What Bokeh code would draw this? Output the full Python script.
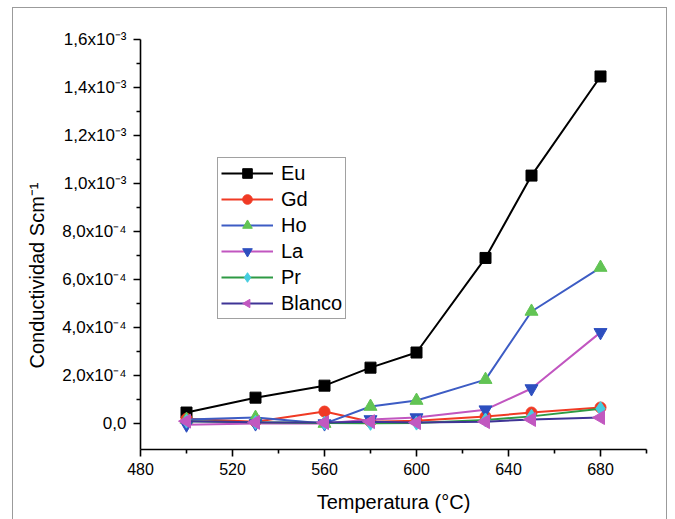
import math
from bokeh.plotting import figure
from bokeh.models import (FixedTicker, Legend, LegendItem, Title, Range1d,
                          ColumnDataSource)
from bokeh.embed import file_html
from bokeh.resources import INLINE

# Temperatura (°C) y conductividad (S/cm) de cada muestra
temperatura = [500, 530, 560, 580, 600, 630, 650, 680]
eu = [4.6e-5, 1.08e-4, 1.58e-4, 2.33e-4, 2.96e-4, 6.9e-4, 1.033e-3, 1.446e-3]
gd = [2.0e-5, 8e-6, 5.0e-5, 8e-6, 1.2e-5, 2.9e-5, 4.6e-5, 6.7e-5]
ho = [1.7e-5, 2.5e-5, 0.0, 7.1e-5, 9.6e-5, 1.83e-4, 4.67e-4, 6.5e-4]
la = [-5e-6, 0.0, 0.0, 1.7e-5, 2.5e-5, 5.8e-5, 1.46e-4, 3.8e-4]
pr = [1.0e-5, 5e-6, 2e-6, 1e-6, 2e-6, 1.5e-5, 3.0e-5, 6.2e-5]
blanco = [1.0e-5, 5e-6, 4e-6, 8e-6, 4e-6, 8e-6, 1.7e-5, 2.5e-5]

x_ticks = [480, 520, 560, 600, 640, 680]
x_minor = [500, 540, 580, 620, 660, 700]
y_ticks = [0.0, 0.0002, 0.0004, 0.0006, 0.0008, 0.001, 0.0012, 0.0014, 0.0016]
y_tick_labels = ["0,0", "2,0x10⁻⁴", "4,0x10⁻⁴", "6,0x10⁻⁴", "8,0x10⁻⁴",
                 "1,0x10⁻³", "1,2x10⁻³", "1,4x10⁻³", "1,6x10⁻³"]
y_minor = [0.0001, 0.0003, 0.0005, 0.0007, 0.0009, 0.0011, 0.0013, 0.0015]

FONT = "Liberation Sans"

p = figure(width=655, height=520,
           x_range=Range1d(480, 700), y_range=Range1d(-1.08e-4, 1.6e-3),
           output_backend="svg", toolbar_location=None,
           min_border_left=127, min_border_right=22,
           min_border_top=31, min_border_bottom=79,
           styles={"margin-left": "12px", "margin-top": "7px",
                   "border": "1px solid #9b9b9b"})
p.outline_line_color = None
p.xgrid.visible = False
p.ygrid.visible = False
p.background_fill_color = "white"
p.border_fill_color = "white"

for ax in (p.xaxis[0], p.yaxis[0]):
    ax.axis_line_width = 1.6
    ax.axis_line_color = "black"
    ax.major_tick_line_width = 1.6
    ax.minor_tick_line_width = 1.6
    ax.major_tick_in = 0
    ax.major_tick_out = 7
    ax.minor_tick_in = 0
    ax.minor_tick_out = 4
    ax.major_label_text_font = FONT
    ax.major_label_text_font_size = "16px"
    ax.major_label_text_color = "black"

p.xaxis.ticker = FixedTicker(ticks=x_ticks, minor_ticks=x_minor)
p.xaxis.major_label_standoff = 6
p.xaxis.axis_label = "Temperatura (°C)"
p.xaxis.axis_label_text_font = FONT
p.xaxis.axis_label_text_font_size = "20px"
p.xaxis.axis_label_text_font_style = "normal"
p.xaxis.axis_label_text_color = "black"
p.xaxis.axis_label_standoff = 13

p.yaxis.ticker = FixedTicker(ticks=y_ticks, minor_ticks=y_minor)
p.yaxis.major_label_overrides = dict(zip(y_ticks, y_tick_labels))
p.yaxis.major_label_text_font_size = "17px"
p.yaxis.major_label_standoff = 7

series = [
    ("Eu", eu, "black", "square", "black", 11),
    ("Gd", gd, "#f03a24", "circle", "#f03a24", 11),
    ("Ho", ho, "#3d5cc4", "triangle", "#62c454", 13),
    ("La", la, "#c156c0", "inverted_triangle", "#2d4fbf", 13),
    ("Pr", pr, "#2e9a44", "diamond", "#45cde0", 14),
    ("Blanco", blanco, "#3f3496", "left", "#c158c0", 8),
]

items = []
for name, values, line_color, marker, marker_color, size in series:
    src = ColumnDataSource(data=dict(x=temperatura, y=values))
    r_line = p.line("x", "y", source=src, line_color=line_color, line_width=2)
    if marker == "left":
        # left-pointing triangle as a three-sided polygon sized in pixels
        r_pts = p.ngon("x", "y", source=src, radius=size, radius_units="screen",
                       n=3, angle=math.pi / 2,
                       fill_color=marker_color, line_color=marker_color)
    else:
        r_pts = p.scatter("x", "y", source=src, marker=marker, size=size,
                          fill_color=marker_color, line_color=marker_color)
    items.append(LegendItem(label=name, renderers=[r_line, r_pts]))

legend = Legend(items=items, location=(77, 130),
                border_line_color="#444444", border_line_width=1,
                background_fill_color="white", background_fill_alpha=1,
                padding=3, spacing=2, margin=0,
                glyph_height=24, label_height=24, glyph_width=52,
                label_standoff=8,
                label_text_font=FONT, label_text_font_size="20px",
                label_text_color="black")
p.add_layout(legend)

ylabel = Title(text="Conductividad Scm⁻¹", align="left", offset=81,
               standoff=20, vertical_align="top",
               text_font=FONT, text_font_size="20px",
               text_font_style="normal", text_color="black")
p.add_layout(ylabel, "left")

open("out.html", "w").write(file_html(p, INLINE))
